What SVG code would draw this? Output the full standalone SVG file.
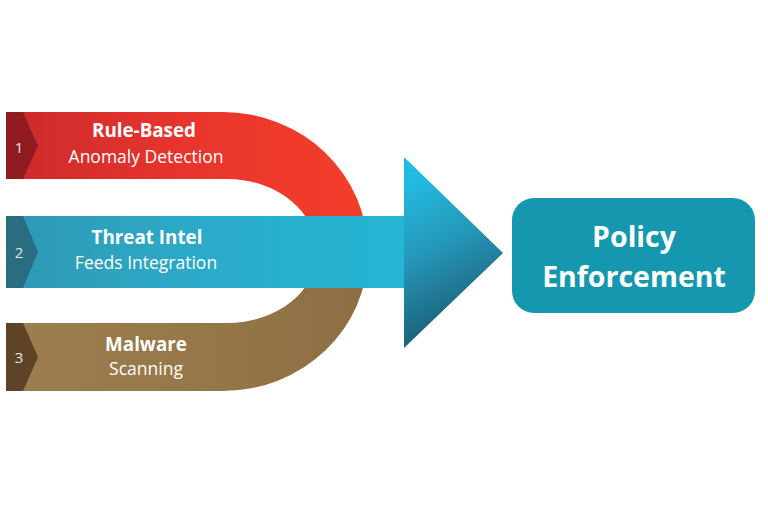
<svg xmlns="http://www.w3.org/2000/svg" width="768" height="513" viewBox="0 0 768 513">
<defs>
<linearGradient id="gRed" x1="6" y1="0" x2="368" y2="0" gradientUnits="userSpaceOnUse">
<stop offset="0" stop-color="#cc2a2c"/><stop offset="0.5" stop-color="#e8352d"/><stop offset="1" stop-color="#f43e2a"/>
</linearGradient>
<linearGradient id="gBrown" x1="6" y1="0" x2="368" y2="0" gradientUnits="userSpaceOnUse">
<stop offset="0" stop-color="#9c7e50"/><stop offset="0.6" stop-color="#957649"/><stop offset="1" stop-color="#8d6e42"/>
</linearGradient>
<linearGradient id="gStem" x1="6" y1="0" x2="405" y2="0" gradientUnits="userSpaceOnUse">
<stop offset="0" stop-color="#2f98b3"/><stop offset="0.5" stop-color="#2babc9"/><stop offset="1" stop-color="#25b5d6"/>
</linearGradient>
<linearGradient id="gHead" x1="410" y1="180" x2="480" y2="320" gradientUnits="userSpaceOnUse">
<stop offset="0" stop-color="#22bbe0"/><stop offset="0.45" stop-color="#2598ba"/><stop offset="1" stop-color="#1b5c72"/>
</linearGradient>
<style>
.t{font-family:"Open Sans","Noto Sans","Liberation Sans",sans-serif;fill:#ffffff;text-anchor:middle}
.b{font-weight:700;font-size:18.8px}
.r{font-weight:400;font-size:17.5px}
.n{font-family:"Open Sans","Noto Sans","Liberation Sans",sans-serif;font-size:15px;fill:#e6e6e6;text-anchor:middle}
.p{font-family:"Open Sans","Noto Sans","Liberation Sans",sans-serif;font-weight:700;font-size:28.5px;fill:#ffffff;text-anchor:middle}
</style>
</defs>
<rect width="768" height="513" fill="#ffffff"/>
<g id="band-rule-based">
<path d="M6,112 L223,112 A145,140 0 0 1 368,252 L317,252 A90,73 0 0 0 227,179 L6,179 Z" fill="url(#gRed)"/>
<path d="M6,112 L23,112 L38,146 L23,179 L6,179 Z" fill="#8f1b20"/>
<text class="n" x="19" y="153">1</text>
<text class="t b" x="144" y="137">Rule-Based</text>
<text class="t r" x="146" y="163">Anomaly Detection</text>
</g>
<g id="band-malware">
<path d="M6,391 L223,391 A145,139 0 0 0 368,252 L317,252 A90,71 0 0 1 227,323 L6,323 Z" fill="url(#gBrown)"/>
<path d="M6,323 L23,323 L38,357 L23,391 L6,391 Z" fill="#5e4427"/>
<text class="n" x="19" y="363">3</text>
<text class="t b" x="146" y="351">Malware</text>
<text class="t r" x="146" y="375">Scanning</text>
</g>
<g id="connectors">
<g id="arrow-threat-intel">
<rect x="6" y="216" width="399" height="72" fill="url(#gStem)"/>
<path d="M404,157 L503,253 L404,348 Z" fill="url(#gHead)"/>
<path d="M6,216 L23,216 L38,252 L23,288 L6,288 Z" fill="#2a6d80"/>
<text class="n" x="19" y="258">2</text>
<text class="t b" x="147" y="244">Threat Intel</text>
<text class="t r" x="146" y="269">Feeds Integration</text>
</g>
</g>
<g id="policy-enforcement">
<rect x="512" y="198" width="243" height="115" rx="22" ry="22" fill="#1597b0"/>
<text class="p" x="634" y="247">Policy</text>
<text class="p" x="634" y="287">Enforcement</text>
</g>
</svg>
